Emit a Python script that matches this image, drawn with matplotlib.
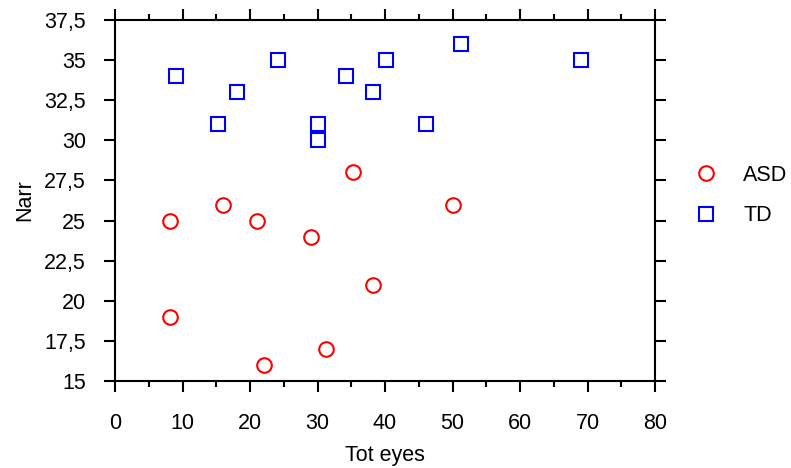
import matplotlib
matplotlib.use("Agg")
import matplotlib.pyplot as plt
from matplotlib.ticker import MultipleLocator, FuncFormatter

# ---------------------------------------------------------------------------
# Data
# ---------------------------------------------------------------------------
asd_x = [8.2, 8.2, 16.0, 21.0, 22.0, 29.0, 31.3, 35.3, 38.2, 50.1]
asd_y = [25, 19, 26, 25, 16, 24, 17, 28, 21, 26]

td_x = [9.0, 15.3, 18.1, 24.1, 30.1, 30.1, 34.2, 38.2, 40.1, 46.1, 51.3, 69.0]
td_y = [34, 31, 33, 35, 31, 30, 34, 33, 35, 31, 36, 35]

x_ticks = [0, 10, 20, 30, 40, 50, 60, 70, 80]
y_ticks = [15, 17.5, 20, 22.5, 25, 27.5, 30, 32.5, 35, 37.5]

FS = 15.5
plt.rcParams["font.family"] = ["Liberation Sans", "DejaVu Sans"]

fig = plt.figure(figsize=(7.91, 4.68), dpi=100)
ax = fig.add_axes([115 / 791, 1 - 381 / 468, 540 / 791, 361 / 468])

ax.plot(asd_x, asd_y, linestyle="none", marker="o", markersize=10.5,
        markerfacecolor="none", markeredgecolor="#ff0000",
        markeredgewidth=1.5, label="ASD", clip_on=False)
ax.plot(td_x, td_y, linestyle="none", marker="s", markersize=10.5,
        markerfacecolor="none", markeredgecolor="#0000ff",
        markeredgewidth=1.5, label="TD", clip_on=False)

ax.set_xlim(0, 80)
ax.set_ylim(15, 37.5)
ax.set_xticks(x_ticks)
ax.xaxis.set_minor_locator(MultipleLocator(5))
ax.set_yticks(y_ticks)
ax.yaxis.set_major_formatter(
    FuncFormatter(lambda v, _: (f"{v:g}").replace(".", ",")))

for s in ax.spines.values():
    s.set_linewidth(1.5)
    s.set_color("black")

ax.tick_params(axis="both", which="major", direction="out", length=8,
               width=1.5, labelsize=FS, colors="black",
               top=True, right=True, labeltop=False, labelright=False)
ax.tick_params(axis="x", which="minor", direction="out", length=4.5,
               width=1.5, top=True)
ax.tick_params(axis="x", which="major", pad=15)
ax.tick_params(axis="y", which="major", pad=13)

ax.set_xlabel("Tot eyes", fontsize=FS, labelpad=8)
ax.set_ylabel("Narr", fontsize=FS, labelpad=6)

ax.legend(loc="center left", bbox_to_anchor=(1.039, 0.514), frameon=False,
          fontsize=FS, handletextpad=0.72, labelspacing=0.9,
          borderaxespad=0)

fig.savefig("out.png", dpi=100, facecolor="white")
